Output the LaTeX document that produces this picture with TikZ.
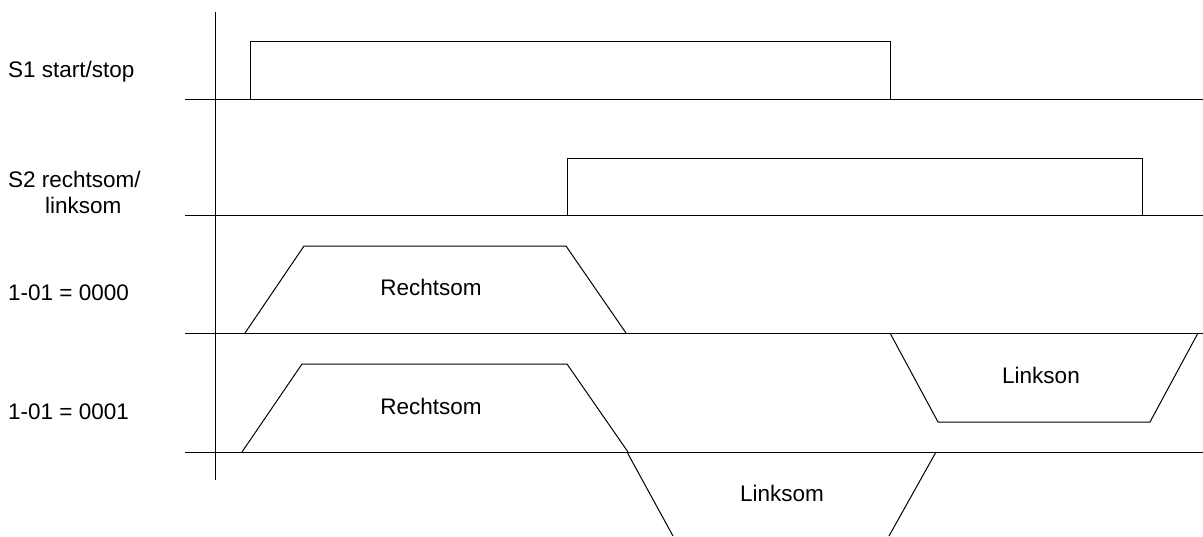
\documentclass[tikz,border=0pt]{standalone}
\usepackage{fontspec}
\setmainfont{Liberation Sans}
\begin{document}
\begin{tikzpicture}[x=1pt,y=-1pt,
  sig/.style={line width=1pt,black,line join=miter},
  lbl/.style={font=\fontsize{22.5}{26}\selectfont,inner sep=0pt},
  rowlbl/.style={lbl,anchor=west,align=left}]
\useasboundingbox (0,0) rectangle (1203,536);
\clip (0,0) rectangle (1203,536);
% axis
\coordinate (axT) at (215,12);
\coordinate (axB) at (215,480);
\draw[sig] (axT) -- (axB);
% baselines
\foreach \n/\y in {b1/99,b2/215,b3/333,b4/452}{
  \coordinate (\n L) at (185,\y);
  \coordinate (\n R) at (1203,\y);
  \draw[sig] (\n L) -- (\n R);
}
% S1 pulse
\draw[sig] (250,99) -- (250,41) -- (890,41) -- (890,99);
% S2 pulse
\draw[sig] (567,215) -- (567,158) -- (1142,158) -- (1142,215);
% Rechtsom row 3
\draw[sig] (245,333) -- (304,246) -- (566,246) -- (626,333);
% Rechtsom row 4
\draw[sig] (242,452) -- (302,364) -- (567,364) -- (628,452);
% Linkson row 4
\draw[sig] (890,333) -- (938,422) -- (1150,422) -- (1198,333);
% Linksom below
\draw[sig] (627,452) -- (673,536);
\draw[sig] (936,452) -- (889,536);
% labels
\node[rowlbl] (l1) at (8,72) {S1 start/stop};
\node[rowlbl] (l2) at (8,192) {S2 rechtsom/\\\hspace*{37pt}linksom};
\node[rowlbl] (l3) at (8,293) {1-01 = 0000};
\node[rowlbl] (l4) at (8,412) {1-01 = 0001};
\node[lbl] (r1) at (431,287) {Rechtsom};
\node[lbl] (r2) at (431,406) {Rechtsom};
\node[lbl] (k1) at (1041,375) {Linkson};
\node[lbl] (k2) at (782,493) {Linksom};
\end{tikzpicture}
\end{document}
